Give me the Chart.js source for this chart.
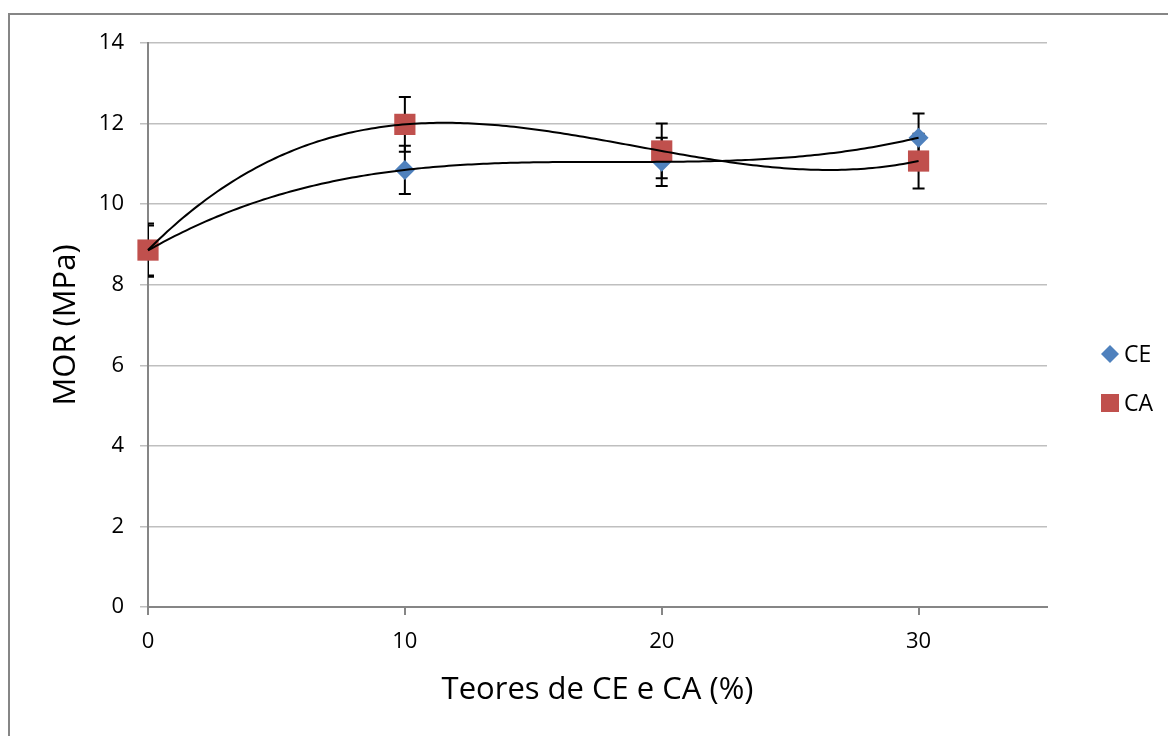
<!DOCTYPE html>
<html>
<head>
<meta charset="utf-8">
<script src="https://cdn.jsdelivr.net/npm/chart.js@4/dist/chart.umd.min.js"></script>
<style>
  html, body { margin: 0; padding: 0; background: #ffffff; overflow: hidden; }
  #wrap { position: relative; width: 1168px; height: 736px; }
  #frame { position: absolute; left: 8px; top: 13px; width: 1170px; height: 740px; border: 2px solid #868686; box-sizing: border-box; pointer-events: none; }
  canvas { position: absolute; left: 0; top: 0; }
</style>
</head>
<body>
<div id="wrap">
  <canvas id="c" width="1168" height="736"></canvas>
  <div id="frame"></div>
</div>
<script>
// ---- data ----
const teores = [0, 10, 20, 30];
const ceValues = [8.85, 10.85, 11.05, 11.65];
const ceErrors = [0.62, 0.60, 0.60, 0.60];
const caValues = [8.86, 11.98, 11.32, 11.07];
const caErrors = [0.66, 0.68, 0.68, 0.68];
const yTicks = [0, 2, 4, 6, 8, 10, 12, 14];
const xTicks = [0, 10, 20, 30];
const seriesNames = ['CE', 'CA'];
const yTitle = 'MOR (MPa)';
const xTitle = 'Teores de CE e CA (%)';

const FONT = "'Open Sans', 'DejaVu Sans', sans-serif";

// polynomial (order 3) least-squares trendline, as in the spreadsheet chart
function polyFit(xs, ys, order) {
  const n = order + 1;
  const A = [], b = [];
  for (let i = 0; i < n; i++) {
    A.push(new Array(n).fill(0));
    b.push(0);
  }
  for (let k = 0; k < xs.length; k++) {
    for (let i = 0; i < n; i++) {
      for (let j = 0; j < n; j++) A[i][j] += Math.pow(xs[k], i + j);
      b[i] += ys[k] * Math.pow(xs[k], i);
    }
  }
  for (let i = 0; i < n; i++) {
    let p = i;
    for (let r = i + 1; r < n; r++) if (Math.abs(A[r][i]) > Math.abs(A[p][i])) p = r;
    [A[i], A[p]] = [A[p], A[i]]; [b[i], b[p]] = [b[p], b[i]];
    for (let r = i + 1; r < n; r++) {
      const f = A[r][i] / A[i][i];
      for (let c = i; c < n; c++) A[r][c] -= f * A[i][c];
      b[r] -= f * b[i];
    }
  }
  const coef = new Array(n).fill(0);
  for (let i = n - 1; i >= 0; i--) {
    let s = b[i];
    for (let c = i + 1; c < n; c++) s -= A[i][c] * coef[c];
    coef[i] = s / A[i][i];
  }
  return coef;
}
function trendPoints(xs, ys) {
  const coef = polyFit(xs, ys, 3);
  const pts = [];
  const x0 = xs[0], x1 = xs[xs.length - 1];
  for (let i = 0; i <= 200; i++) {
    const x = x0 + (x1 - x0) * i / 200;
    let y = 0;
    for (let k = 0; k < coef.length; k++) y += coef[k] * Math.pow(x, k);
    pts.push({ x, y });
  }
  return pts;
}

const toXY = (xs, ys) => xs.map((x, i) => ({ x, y: ys[i] }));

const errorBarPlugin = {
  id: 'errorBars',
  beforeDatasetsDraw(chart) {
    const { ctx, chartArea } = chart;
    const xs = chart.scales.x, ys = chart.scales.y;
    ctx.save();
    ctx.beginPath();
    ctx.rect(chartArea.left, chartArea.top - 20, chartArea.right - chartArea.left, chartArea.bottom - chartArea.top + 20);
    ctx.clip();
    ctx.strokeStyle = '#000000';
    ctx.lineWidth = 2;
    chart.data.datasets.forEach(ds => {
      if (!ds.errors) return;
      ds.data.forEach((p, i) => {
        const e = ds.errors[i];
        const px = xs.getPixelForValue(p.x);
        const yTop = ys.getPixelForValue(p.y + e);
        const yBot = ys.getPixelForValue(p.y - e);
        ctx.beginPath();
        ctx.moveTo(px, yTop); ctx.lineTo(px, yBot);
        ctx.moveTo(px - 6, yTop); ctx.lineTo(px + 6, yTop);
        ctx.moveTo(px - 6, yBot); ctx.lineTo(px + 6, yBot);
        ctx.stroke();
      });
    });
    ctx.restore();
  }
};

const legendPlugin = {
  id: 'sideLegend',
  afterDraw(chart) {
    const { ctx, chartArea } = chart;
    const items = chart.data.datasets.filter(d => d.inLegend);
    const x0 = chartArea.right + 63;
    const yc = (chartArea.top + chartArea.bottom) / 2;
    const gap = 49;
    ctx.save();
    items.forEach((ds, i) => {
      const y = yc + 29 + i * gap;
      ctx.fillStyle = ds.backgroundColor;
      ctx.beginPath();
      if (ds.pointStyle === 'rectRot') {
        const r = 9;
        ctx.moveTo(x0 - r, y); ctx.lineTo(x0, y - r); ctx.lineTo(x0 + r, y); ctx.lineTo(x0, y + r);
        ctx.closePath();
      } else {
        ctx.rect(x0 - 9, y - 9, 18, 18);
      }
      ctx.fill();
      ctx.fillStyle = '#000000';
      ctx.font = '23px ' + FONT;
      ctx.textBaseline = 'middle';
      ctx.textAlign = 'left';
      ctx.fillText(ds.label, x0 + 14, y + 1);
    });
    ctx.restore();
  }
};

new Chart(document.getElementById('c'), {
  type: 'scatter',
  data: {
    datasets: [
      {
        label: seriesNames[0], inLegend: true,
        data: toXY(teores, ceValues), errors: ceErrors,
        pointStyle: 'rectRot', pointRadius: 10, pointHoverRadius: 10,
        backgroundColor: '#4F81BD', borderColor: '#4F81BD', borderWidth: 0,
        clip: false, order: 3
      },
      {
        label: seriesNames[1], inLegend: true,
        data: toXY(teores, caValues), errors: caErrors,
        pointStyle: 'rect', pointRadius: 15, pointHoverRadius: 15,
        backgroundColor: '#C0504D', borderColor: '#C0504D', borderWidth: 0,
        clip: false, order: 2
      },
      {
        label: 'trend CE', type: 'line', data: trendPoints(teores, ceValues),
        borderColor: '#000000', borderWidth: 2, pointRadius: 0, fill: false, clip: false, order: 1
      },
      {
        label: 'trend CA', type: 'line', data: trendPoints(teores, caValues),
        borderColor: '#000000', borderWidth: 2, pointRadius: 0, fill: false, clip: false, order: 0
      }
    ]
  },
  options: {
    responsive: false,
    animation: false,
    devicePixelRatio: 1,
    layout: { padding: { top: 43, right: 121, left: 0, bottom: 0 } },
    plugins: { legend: { display: false }, tooltip: { enabled: false } },
    scales: {
      x: {
        type: 'linear', min: 0, max: 35,
        afterFit(s) { s.height = 129; },
        afterBuildTicks(s) { s.ticks = xTicks.map(v => ({ value: v })); },
        ticks: { font: { family: FONT, size: 22 }, color: '#000000', padding: 14, maxRotation: 0 },
        grid: { drawOnChartArea: false, drawTicks: true, tickLength: 8, color: '#868686', lineWidth: 2 },
        border: { color: '#868686', width: 2 },
        title: { display: true, text: xTitle, font: { family: FONT, size: 31 }, color: '#000000', padding: { top: 0, bottom: 27 } }
      },
      y: {
        type: 'linear', min: 0, max: 14,
        afterFit(s) { s.width = 148; },
        afterBuildTicks(s) { s.ticks = yTicks.map(v => ({ value: v })); },
        ticks: { font: { family: FONT, size: 22 }, color: '#000000', padding: 16 },
        grid: { color: '#BFBFBF', lineWidth: 1.5, tickLength: 8 },
        border: { color: '#868686', width: 2 },
        title: { display: true, text: yTitle, font: { family: FONT, size: 31 }, color: '#000000', padding: { top: 48, bottom: 0 } }
      }
    }
  },
  plugins: [errorBarPlugin, legendPlugin]
});
</script>
</body>
</html>
